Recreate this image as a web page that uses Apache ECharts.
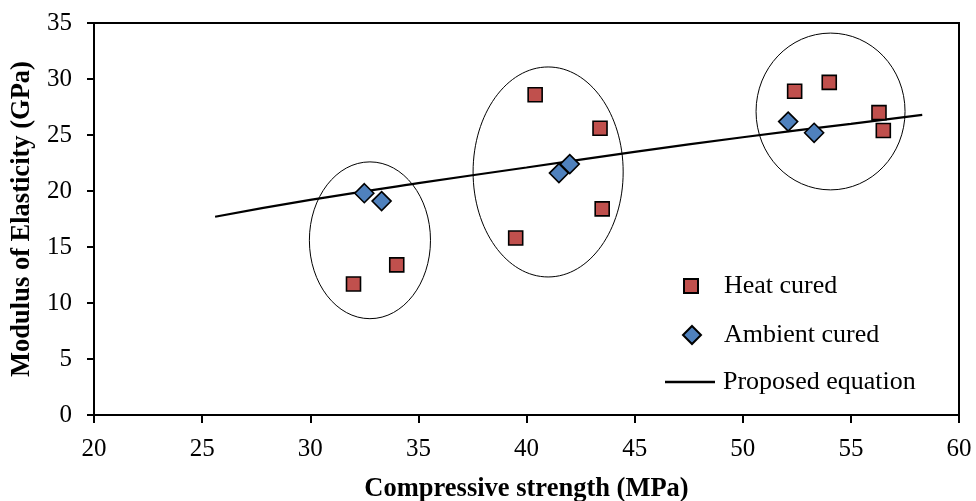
<!DOCTYPE html>
<html>
<head>
<meta charset="utf-8">
<script src="https://cdn.jsdelivr.net/npm/echarts@6/dist/echarts.min.js"></script>
<style>html,body{margin:0;padding:0;background:#fff;}#c{width:976px;height:501px;}</style>
</head>
<body>
<div id="c"></div>
<script>
// Data
const heatX = [32.0, 34.0, 40.4, 43.4, 43.5, 39.5, 52.4, 54.0, 56.3, 56.5];
const heatY = [11.7, 13.4, 28.6, 25.6, 18.4, 15.8, 28.9, 29.7, 27.0, 25.4];
const ambX = [32.5, 33.3, 41.5, 42.0, 52.1, 53.3];
const ambY = [19.8, 19.1, 21.6, 22.4, 26.2, 25.2];
const eqX = [25.6, 30, 35, 40, 45, 50, 55, 58.3];
const eqY = [17.7, 19.2, 20.7, 22.1, 23.5, 24.8, 26.0, 26.8];
// grouping ellipses: centre x, centre y, radius x, radius y (data units)
const groupCx = [32.76, 41.0, 54.06];
const groupCy = [15.6, 21.7, 27.1];
const groupRx = [2.8, 3.47, 3.445];
const groupRy = [7.0, 9.375, 7.0];
const xTicks = [20, 25, 30, 35, 40, 45, 50, 55, 60];
const yTicks = [0, 5, 10, 15, 20, 25, 30, 35];

const zip = (a, b) => a.map((v, i) => [v, b[i]]);
const font = 'Liberation Serif, Times New Roman, serif';

const chart = echarts.init(document.getElementById('c'));
chart.setOption({
  animation: false,
  backgroundColor: '#fff',
  grid: { left: 94, right: 17, top: 23, bottom: 86, show: true, borderColor: '#000', borderWidth: 2,
    containLabel: false, outerBoundsMode: 'none' },
  xAxis: {
    type: 'value', min: xTicks[0], max: xTicks[xTicks.length - 1], interval: 5,
    name: 'Compressive strength (MPa)', nameLocation: 'middle', nameGap: 61,
    nameTextStyle: { fontFamily: font, fontWeight: 'bold', fontSize: 26.5, color: '#000' },
    axisLine: { show: true, lineStyle: { color: '#000', width: 2 } },
    axisTick: { show: true, inside: false, length: 8, lineStyle: { color: '#000', width: 2 } },
    axisLabel: { fontFamily: font, fontSize: 25, color: '#000', margin: 22 },
    splitLine: { show: false }
  },
  yAxis: {
    type: 'value', min: yTicks[0], max: yTicks[yTicks.length - 1], interval: 5,
    name: 'Modulus of Elasticity (GPa)', nameLocation: 'middle', nameGap: 58,
    nameTextStyle: { fontFamily: font, fontWeight: 'bold', fontSize: 26.5, color: '#000' },
    axisLine: { show: true, lineStyle: { color: '#000', width: 2 } },
    axisTick: { show: true, inside: false, length: 7, lineStyle: { color: '#000', width: 2 } },
    axisLabel: { fontFamily: font, fontSize: 25, color: '#000', margin: 22 },
    splitLine: { show: false }
  },
  legend: [
    { data: ['Heat cured'], left: 683, top: 273, padding: 0, orient: 'vertical', itemWidth: 14, itemHeight: 14, itemGap: 0,
      textStyle: { fontFamily: font, fontSize: 26, color: '#000', padding: [0, 0, 0, 21] } },
    { data: ['Ambient cured'], left: 682, top: 322, padding: 0, orient: 'vertical', itemWidth: 18, itemHeight: 18, itemGap: 0,
      textStyle: { fontFamily: font, fontSize: 26, color: '#000', padding: [0, 0, 0, 18] } },
    { data: [{ name: 'Proposed equation', icon: 'rect' }], left: 665, top: 369, padding: 0, orient: 'vertical', itemWidth: 50, itemHeight: 2.5, itemGap: 0,
      itemStyle: { color: '#000', borderWidth: 0 },
      textStyle: { fontFamily: font, fontSize: 26, color: '#000', padding: [0, 0, 0, 3] } }
  ],
  series: [
    {
      name: 'Groups', type: 'custom', silent: true, z: 1,
      data: groupCx.map((v, i) => [v, groupCy[i], groupRx[i], groupRy[i]]),
      encode: { x: 0, y: 1 },
      renderItem: function (params, api) {
        const c = api.coord([api.value(0), api.value(1)]);
        const s = api.size([api.value(2), api.value(3)]);
        return { type: 'ellipse', shape: { cx: c[0], cy: c[1], rx: s[0], ry: s[1] },
          style: { fill: 'none', stroke: '#000', lineWidth: 1 } };
      }
    },
    {
      name: 'Proposed equation', type: 'line', data: zip(eqX, eqY), smooth: true,
      symbol: 'none', showSymbol: false, z: 2,
      lineStyle: { color: '#000', width: 2.2 }, itemStyle: { color: '#000' }
    },
    {
      name: 'Heat cured', type: 'scatter', data: zip(heatX, heatY), symbol: 'rect', symbolSize: 14, z: 3,
      itemStyle: { color: '#C0504D', borderColor: '#000', borderWidth: 1.6, opacity: 1 }
    },
    {
      name: 'Ambient cured', type: 'scatter', data: zip(ambX, ambY), symbol: 'diamond', symbolSize: 19, z: 3,
      itemStyle: { color: '#4F81BD', borderColor: '#000', borderWidth: 1.6, opacity: 1 }
    }
  ]
});
</script>
</body>
</html>
